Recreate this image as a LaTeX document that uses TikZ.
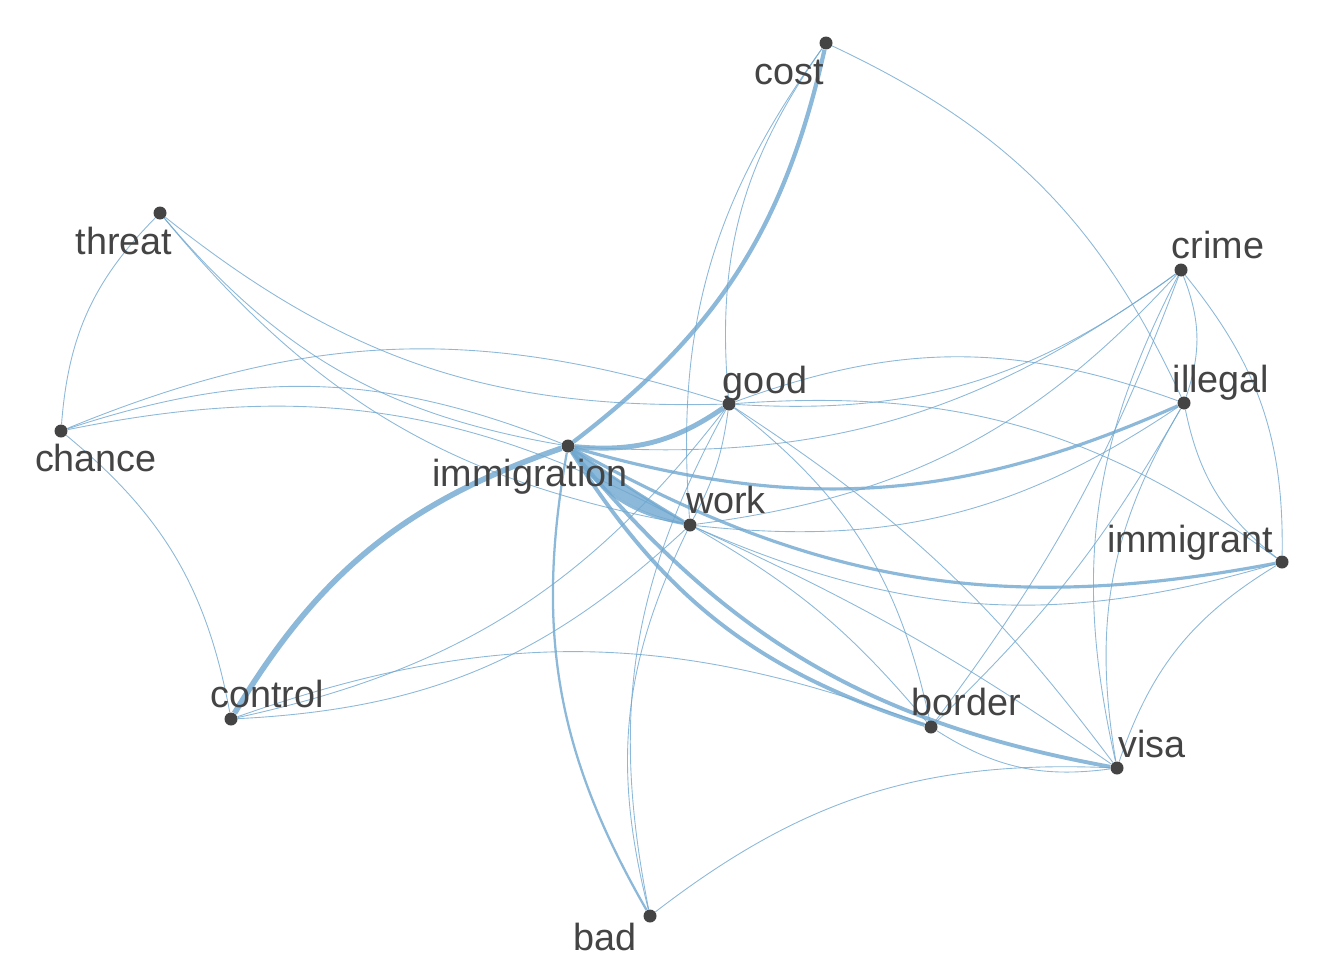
\documentclass[tikz,border=0pt]{standalone}
\usepackage{fontspec}
\setmainfont{Liberation Sans}
\usepackage{tikz}
\usetikzlibrary{backgrounds}
\definecolor{edgeblue}{RGB}{111,167,207}
\definecolor{nodegrey}{RGB}{68,68,68}

\begin{document}
\begin{tikzpicture}[x=0.02cm,y=0.02cm,
    dot/.style={circle,fill=nodegrey,inner sep=0pt,minimum size=0.26cm},
    lbl/.style={anchor=base,text=nodegrey,inner sep=0pt,font=\fontsize{21.5}{24}\selectfont},
    edge/.style={draw=edgeblue,draw opacity=0.8,line width=0.5pt},
    heavy/.style={edge,line width=#1}]
    \useasboundingbox (0,0) rectangle (1344,-960);

    % words
    \node[dot] (cost) at (826,-43) {};
    \node[dot] (threat) at (160,-213) {};
    \node[dot] (crime) at (1181,-270) {};
    \node[dot] (chance) at (61,-431) {};
    \node[dot] (good) at (729,-404) {};
    \node[dot] (illegal) at (1184,-403) {};
    \node[dot] (imm) at (568,-446) {};
    \node[dot] (work) at (690,-525) {};
    \node[dot] (immigrant) at (1282,-562) {};
    \node[dot] (control) at (231,-719) {};
    \node[dot] (border) at (931,-727) {};
    \node[dot] (visa) at (1117,-768) {};
    \node[dot] (bad) at (650,-916) {};

    \node[lbl] (costlbl) at (789,-84) {cost};
    \node[lbl] (threatlbl) at (124,-254) {threat};
    \node[lbl] (crimelbl) at (1218,-258) {crime};
    \node[lbl] (chancelbl) at (96,-471) {chance};
    \node[lbl] (goodlbl) at (765,-393) {good};
    \node[lbl] (illegallbl) at (1221,-392) {illegal};
    \node[lbl] (immlbl) at (530,-486) {immigration};
    \node[lbl] (worklbl) at (726,-513) {work};
    \node[lbl] (immigrantlbl) at (1190,-552) {immigrant};
    \node[lbl] (controllbl) at (267,-707) {control};
    \node[lbl] (borderlbl) at (966,-715) {border};
    \node[lbl] (visalbl) at (1152,-757) {visa};
    \node[lbl] (badlbl) at (605,-950) {bad};

    \begin{scope}[on background layer]
    % strong links to immigration
    \draw[heavy=2.4pt] (cost) to[bend left=20] (imm);
    \draw[heavy=3.2pt] (control) to[bend left=20] (imm);
    \draw[heavy=2.8pt] (good) to[bend left=20] (imm);
    \draw[heavy=1.8pt] (illegal) to[bend left=20] (imm);
    \draw[heavy=1.8pt] (immigrant) to[bend left=20] (imm);
    \draw[heavy=2.2pt] (border) to[bend left=20] (imm);
    \draw[heavy=2.2pt] (visa) to[bend left=20] (imm);
    \draw[heavy=1.3pt] (bad) to[bend left=20] (imm);
    \fill[edgeblue,fill opacity=0.8] (work.center) to[bend left=2] (imm.center)
        to[bend right=22] (work.center) -- cycle;
    \draw[heavy=1.5pt] (work) to[bend left=2] (imm);
    \draw[heavy=1.5pt] (work) to[bend left=22] (imm);

    % weak links
    \draw[edge] (good) to[bend left=20] (cost);
    \draw[edge] (work) to[bend left=20] (cost);
    \draw[edge] (cost) to[bend left=20] (illegal);
    \draw[edge] (chance) to[bend left=20] (threat);
    \draw[edge] (good) to[bend left=20] (threat);
    \draw[edge] (imm) to[bend left=20] (threat);
    \draw[edge] (work) to[bend left=20] (threat);
    \draw[edge] (chance) to[bend left=20] (good);
    \draw[edge] (chance) to[bend left=20] (imm);
    \draw[edge] (chance) to[bend left=20] (work);
    \draw[edge] (chance) to[bend left=20] (control);
    \draw[edge] (good) to[bend left=20] (control);
    \draw[edge] (work) to[bend left=20] (control);
    \draw[edge] (control) to[bend left=20] (border);
    \draw[edge] (bad) to[bend left=20] (good);
    \draw[edge] (bad) to[bend left=20] (work);
    \draw[edge] (bad) to[bend left=20] (visa);
    \draw[edge] (crime) to[bend left=20] (illegal);
    \draw[edge] (crime) to[bend left=20] (immigrant);
    \draw[edge] (visa) to[bend left=20] (crime);
    \draw[edge] (crime) to[bend left=20] (good);
    \draw[edge] (crime) to[bend left=20] (imm);
    \draw[edge] (crime) to[bend left=20] (work);
    \draw[edge] (crime) to[bend left=8] (border);
    \draw[edge] (immigrant) to[bend left=20] (illegal);
    \draw[edge] (visa) to[bend left=20] (illegal);
    \draw[edge] (illegal) to[bend left=8] (border);
    \draw[edge] (illegal) to[bend left=20] (work);
    \draw[edge] (good) to[bend left=20] (illegal);
    \draw[edge] (good) to[bend left=20] (immigrant);
    \draw[edge] (good) to[bend left=10] (work);
    \draw[edge] (good) to[bend left=20] (border);
    \draw[edge] (good) to[bend left=10] (visa);
    \draw[edge] (immigrant) to[bend left=20] (work);
    \draw[edge] (work) to[bend left=10] (border);
    \draw[edge] (work) to[bend left=5] (visa);
    \draw[edge] (visa) to[bend left=20] (border);
    \draw[edge] (visa) to[bend left=20] (immigrant);
    \end{scope}
\end{tikzpicture}
\end{document}
